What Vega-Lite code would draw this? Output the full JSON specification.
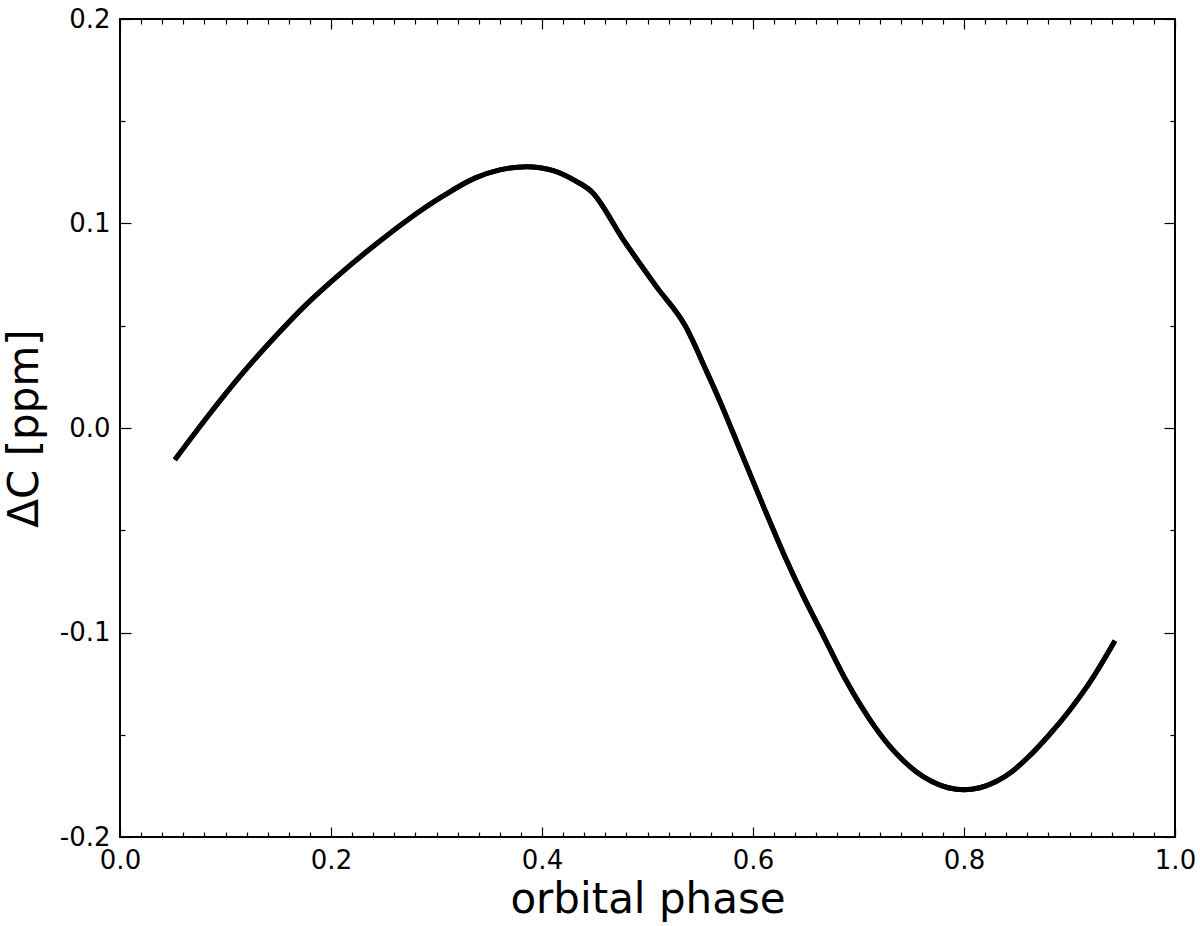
{
  "$schema": "https://vega.github.io/schema/vega-lite/v6.json",
  "width": 1055,
  "height": 818,
  "autosize": {"type": "none"},
  "padding": {"left": 120, "top": 19, "right": 25, "bottom": 89},
  "background": "white",
  "config": {
    "view": {"stroke": "black", "strokeWidth": 2},
    "font": "DejaVu Sans",
    "axis": {
      "domain": false,
      "grid": false,
      "labelFont": "DejaVu Sans",
      "labelFontSize": 26,
      "labelColor": "black",
      "labelOverlap": false,
      "labelFlush": false,
      "tickColor": "black",
      "tickWidth": 1.2,
      "titleFont": "DejaVu Sans",
      "titleFontSize": 42,
      "titleFontWeight": "normal",
      "titleColor": "black"
    }
  },
  "data": {
    "values": [
      {"phase": 0.052, "dc": -0.0155},
      {"phase": 0.0836, "dc": 0.0060},
      {"phase": 0.1152, "dc": 0.0262},
      {"phase": 0.1468, "dc": 0.0445},
      {"phase": 0.1784, "dc": 0.0613},
      {"phase": 0.2100, "dc": 0.0760},
      {"phase": 0.2416, "dc": 0.0895},
      {"phase": 0.2732, "dc": 0.1020},
      {"phase": 0.3048, "dc": 0.1130},
      {"phase": 0.3364, "dc": 0.1222},
      {"phase": 0.3600, "dc": 0.1262},
      {"phase": 0.3855, "dc": 0.1278},
      {"phase": 0.4107, "dc": 0.1259},
      {"phase": 0.4329, "dc": 0.1205},
      {"phase": 0.4470, "dc": 0.1156},
      {"phase": 0.4770, "dc": 0.0921},
      {"phase": 0.5086, "dc": 0.0690},
      {"phase": 0.5355, "dc": 0.0502},
      {"phase": 0.5560, "dc": 0.0277},
      {"phase": 0.5687, "dc": 0.0130},
      {"phase": 0.5877, "dc": -0.0106},
      {"phase": 0.6098, "dc": -0.0382},
      {"phase": 0.6288, "dc": -0.0612},
      {"phase": 0.6477, "dc": -0.0822},
      {"phase": 0.6667, "dc": -0.1016},
      {"phase": 0.6888, "dc": -0.1240},
      {"phase": 0.7109, "dc": -0.1427},
      {"phase": 0.7283, "dc": -0.1548},
      {"phase": 0.7400, "dc": -0.1614},
      {"phase": 0.7550, "dc": -0.1682},
      {"phase": 0.7700, "dc": -0.1730},
      {"phase": 0.7850, "dc": -0.1759},
      {"phase": 0.8000, "dc": -0.1769},
      {"phase": 0.8150, "dc": -0.1759},
      {"phase": 0.8300, "dc": -0.1730},
      {"phase": 0.8450, "dc": -0.1682},
      {"phase": 0.8600, "dc": -0.1614},
      {"phase": 0.8800, "dc": -0.1505},
      {"phase": 0.9000, "dc": -0.1381},
      {"phase": 0.9200, "dc": -0.1238},
      {"phase": 0.9431, "dc": -0.1040}
    ]
  },
  "layer": [
    {
      "mark": {"type": "line", "color": "black", "strokeWidth": 5, "strokeCap": "butt", "interpolate": "monotone", "clip": true},
      "encoding": {
        "x": {
          "field": "phase", "type": "quantitative",
          "scale": {"domain": [0, 1], "nice": false, "zero": false},
          "axis": {
            "orient": "bottom",
            "title": "orbital phase",
            "values": [0,0.02,0.04,0.06,0.08,0.1,0.12,0.14,0.16,0.18,0.2,0.22,0.24,0.26,0.28,0.3,0.32,0.34,0.36,0.38,0.4,0.42,0.44,0.46,0.48,0.5,0.52,0.54,0.56,0.58,0.6,0.62,0.64,0.66,0.68,0.7,0.72,0.74,0.76,0.78,0.8,0.82,0.84,0.86,0.88,0.9,0.92,0.94,0.96,0.98,1.0],
            "labelExpr": "abs(datum.value*5 - round(datum.value*5)) < 0.001 ? format(datum.value, '.1f') : ''",
            "tickSize": {"condition": {"test": "abs(datum.value*5 - round(datum.value*5)) < 0.001", "value": -10}, "value": -5},
            "labelPadding": 20,
            "titleBaseline": "alphabetic",
            "titleY": 75
          }
        },
        "y": {
          "field": "dc", "type": "quantitative",
          "scale": {"domain": [-0.2, 0.2], "nice": false, "zero": false},
          "axis": {
            "orient": "left",
            "title": "ΔC [ppm]",
            "values": [-0.2,-0.15,-0.1,-0.05,0,0.05,0.1,0.15,0.2],
            "labelExpr": "abs(datum.value*10 - round(datum.value*10)) < 0.001 ? (datum.value < -0.001 ? '-' : '') + format(abs(datum.value), '.1f') : ''",
            "tickSize": {"condition": {"test": "abs(datum.value*10 - round(datum.value*10)) < 0.001", "value": -11}, "value": -5},
            "labelPadding": 21,
            "titleBaseline": "alphabetic",
            "titleX": -83
          }
        }
      }
    },
    {
      "mark": {"type": "line", "color": "black", "strokeWidth": 5, "strokeCap": "butt", "interpolate": "monotone", "clip": true},
      "encoding": {
        "x": {
          "field": "phase", "type": "quantitative",
          "axis": {
            "orient": "top",
            "title": null,
            "labels": false,
            "values": [0,0.02,0.04,0.06,0.08,0.1,0.12,0.14,0.16,0.18,0.2,0.22,0.24,0.26,0.28,0.3,0.32,0.34,0.36,0.38,0.4,0.42,0.44,0.46,0.48,0.5,0.52,0.54,0.56,0.58,0.6,0.62,0.64,0.66,0.68,0.7,0.72,0.74,0.76,0.78,0.8,0.82,0.84,0.86,0.88,0.9,0.92,0.94,0.96,0.98,1.0],
            "tickSize": {"condition": {"test": "abs(datum.value*5 - round(datum.value*5)) < 0.001", "value": -10}, "value": -5}
          }
        },
        "y": {
          "field": "dc", "type": "quantitative",
          "axis": {
            "orient": "right",
            "title": null,
            "labels": false,
            "values": [-0.2,-0.15,-0.1,-0.05,0,0.05,0.1,0.15,0.2],
            "tickSize": {"condition": {"test": "abs(datum.value*10 - round(datum.value*10)) < 0.001", "value": -11}, "value": -5}
          }
        }
      }
    }
  ],
  "resolve": {"axis": {"x": "independent", "y": "independent"}}
}
